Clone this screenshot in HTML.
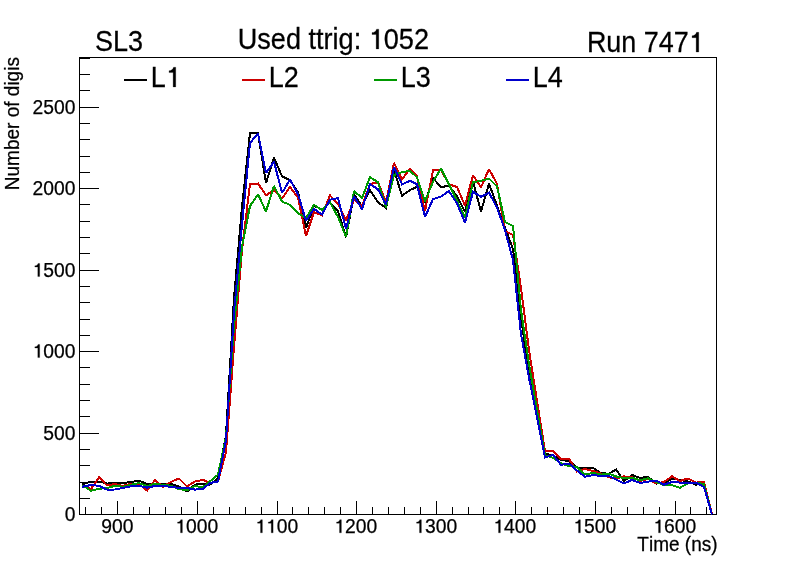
<!DOCTYPE html><html><head><meta charset="utf-8"><style>html,body{margin:0;padding:0;background:#fff;}svg{display:block;will-change:transform;}text{font-family:"Liberation Sans", sans-serif;fill:#000;stroke:#000;stroke-width:0.25px;}</style></head><body>
<svg width="796" height="572" viewBox="0 0 796 572">
<path d="M80 514.5h19M80 498.5h10M80 482.5h10M80 465.5h10M80 449.5h10M80 433.5h19M80 416.5h10M80 400.5h10M80 384.5h10M80 367.5h10M80 351.5h19M80 335.5h10M80 319.5h10M80 302.5h10M80 286.5h10M80 270.5h19M80 253.5h10M80 237.5h10M80 221.5h10M80 204.5h10M80 188.5h19M80 172.5h10M80 156.5h10M80 139.5h10M80 123.5h10M80 107.5h19M80 90.5h10M80 74.5h10M80 58.5h10M85.5 514v-7M101.5 514v-7M117.5 514v-13M133.5 514v-7M149.5 514v-7M165.5 514v-7M181.5 514v-7M197.5 514v-13M213.5 514v-7M229.5 514v-7M245.5 514v-7M261.5 514v-7M277.5 514v-13M292.5 514v-7M308.5 514v-7M324.5 514v-7M340.5 514v-7M356.5 514v-13M372.5 514v-7M388.5 514v-7M404.5 514v-7M420.5 514v-7M436.5 514v-13M452.5 514v-7M468.5 514v-7M483.5 514v-7M499.5 514v-7M515.5 514v-13M531.5 514v-7M547.5 514v-7M563.5 514v-7M579.5 514v-7M595.5 514v-13M611.5 514v-7M627.5 514v-7M643.5 514v-7M659.5 514v-7M675.5 514v-13M690.5 514v-7M706.5 514v-7" stroke="#000" stroke-width="1" fill="none" shape-rendering="crispEdges"/>
<rect x="79.5" y="57.5" width="637" height="457" fill="none" stroke="#000" stroke-width="1" shape-rendering="crispEdges"/>
<polyline points="82.0,484.0 83.0,484.0 91.0,481.5 99.0,481.5 107.0,483.6 115.0,483.0 123.0,483.0 131.0,482.0 139.0,480.7 147.0,484.0 155.0,483.5 163.0,483.8 171.0,483.8 179.0,486.5 187.0,491.5 195.0,484.6 203.0,483.5 210.0,484.6 218.0,478.3 226.0,435.0 234.0,298.0 242.0,207.0 250.0,133.0 258.0,133.0 266.0,183.0 274.0,157.5 282.0,176.4 290.0,180.0 298.0,192.2 306.0,227.8 314.0,205.8 322.0,209.4 330.0,202.4 338.0,211.0 346.0,237.3 354.0,194.5 362.0,206.0 370.0,190.2 378.0,202.4 386.0,208.0 394.0,170.0 402.0,195.7 410.0,190.0 417.0,186.9 425.0,203.0 433.0,178.2 441.0,186.9 449.0,186.0 457.0,196.0 465.0,212.0 473.0,181.5 481.0,211.5 489.0,183.5 497.0,205.7 505.0,228.0 513.0,249.0 521.0,317.0 529.0,374.0 537.0,414.0 545.0,453.6 553.0,455.3 561.0,460.1 569.0,461.0 577.0,467.6 585.0,468.0 593.0,468.0 601.0,473.0 609.0,473.8 616.0,469.5 624.0,481.0 632.0,475.0 640.0,478.0 648.0,476.7 656.0,483.6 664.0,482.6 672.0,478.9 680.0,479.9 688.0,481.5 696.0,484.7 704.0,483.0 712.0,514.5" fill="none" stroke="#000000" stroke-width="2" stroke-linejoin="miter" stroke-miterlimit="2" shape-rendering="crispEdges"/>
<polyline points="82.0,486.0 83.0,486.0 91.0,489.0 99.0,477.2 107.0,485.5 115.0,484.0 123.0,486.0 131.0,483.5 139.0,484.2 147.0,490.6 155.0,480.0 163.0,486.8 171.0,481.8 179.0,478.5 187.0,486.5 195.0,481.5 203.0,479.9 210.0,483.0 218.0,481.5 226.0,452.0 234.0,347.0 242.0,250.0 250.0,184.0 258.0,183.5 266.0,195.3 274.0,190.1 282.0,198.5 290.0,187.0 298.0,197.4 306.0,236.0 314.0,212.1 322.0,215.4 330.0,195.4 338.0,204.1 346.0,220.5 354.0,199.8 362.0,206.0 370.0,184.1 378.0,182.3 386.0,202.0 394.0,162.8 402.0,179.5 410.0,168.6 417.0,176.4 425.0,211.1 433.0,170.3 441.0,170.3 449.0,184.3 457.0,187.0 465.0,205.5 473.0,175.1 481.0,187.3 489.0,169.0 497.0,183.8 505.0,231.0 513.0,235.0 521.0,288.0 529.0,350.0 537.0,401.0 545.0,450.9 553.0,450.9 561.0,458.8 569.0,458.8 577.0,471.5 585.0,468.9 593.0,471.1 601.0,473.5 609.0,477.3 616.0,478.6 624.0,476.4 632.0,477.3 640.0,481.0 648.0,479.1 656.0,483.3 664.0,482.0 672.0,476.3 680.0,481.0 688.0,478.4 696.0,482.6 704.0,482.0 712.0,514.5" fill="none" stroke="#cc0000" stroke-width="2" stroke-linejoin="miter" stroke-miterlimit="2" shape-rendering="crispEdges"/>
<polyline points="82.0,485.5 83.0,485.5 91.0,490.7 99.0,488.8 107.0,488.0 115.0,485.8 123.0,486.8 131.0,484.8 139.0,483.1 147.0,486.0 155.0,483.8 163.0,485.0 171.0,485.7 179.0,489.1 187.0,490.2 195.0,486.0 203.0,487.2 210.0,481.4 218.0,474.6 226.0,437.0 234.0,326.0 242.0,247.0 250.0,206.0 258.0,194.3 266.0,211.5 274.0,185.9 282.0,201.6 290.0,204.8 298.0,213.2 306.0,218.0 314.0,204.8 322.0,210.0 330.0,202.4 338.0,217.0 346.0,237.0 354.0,191.0 362.0,198.0 370.0,177.1 378.0,182.3 386.0,207.3 394.0,175.0 402.0,172.1 410.0,170.9 417.0,177.3 425.0,201.4 433.0,181.7 441.0,168.6 449.0,184.3 457.0,200.6 465.0,217.3 473.0,182.1 481.0,180.9 489.0,178.6 497.0,186.4 505.0,222.0 513.0,226.0 521.0,310.0 529.0,364.0 537.0,410.0 545.0,455.3 553.0,457.9 561.0,463.2 569.0,466.2 577.0,466.7 585.0,474.6 593.0,472.8 601.0,474.6 609.0,473.8 616.0,476.4 624.0,478.2 632.0,477.7 640.0,480.4 648.0,478.2 656.0,481.9 664.0,485.2 672.0,485.2 680.0,487.8 688.0,483.1 696.0,482.6 704.0,484.1 712.0,514.5" fill="none" stroke="#009900" stroke-width="2" stroke-linejoin="miter" stroke-miterlimit="2" shape-rendering="crispEdges"/>
<polyline points="82.0,486.6 83.0,486.6 91.0,485.0 99.0,485.8 107.0,489.6 115.0,489.5 123.0,488.0 131.0,486.2 139.0,485.9 147.0,487.6 155.0,486.0 163.0,486.0 171.0,486.8 179.0,488.0 187.0,488.0 195.0,489.6 203.0,488.8 210.0,483.0 218.0,481.4 226.0,440.0 234.0,312.0 242.0,225.0 250.0,143.0 258.0,133.4 266.0,173.0 274.0,161.7 282.0,193.0 290.0,179.6 298.0,194.3 306.0,220.7 314.0,209.0 322.0,214.4 330.0,199.8 338.0,198.0 346.0,229.0 354.0,196.3 362.0,209.2 370.0,184.1 378.0,189.3 386.0,204.5 394.0,167.0 402.0,184.3 410.0,180.8 417.0,184.3 425.0,216.9 433.0,199.1 441.0,196.5 449.0,191.0 457.0,203.3 465.0,222.7 473.0,191.7 481.0,196.9 489.0,192.6 497.0,207.6 505.0,230.0 513.0,260.0 521.0,334.0 529.0,378.0 537.0,417.0 545.0,457.5 553.0,454.9 561.0,464.9 569.0,463.6 577.0,470.6 585.0,476.7 593.0,475.0 601.0,476.0 609.0,476.0 616.0,479.5 624.0,483.5 632.0,479.9 640.0,483.0 648.0,481.7 656.0,480.5 664.0,484.7 672.0,482.0 680.0,482.6 688.0,482.6 696.0,482.6 704.0,487.0 712.0,514.5" fill="none" stroke="#0000cc" stroke-width="2" stroke-linejoin="miter" stroke-miterlimit="2" shape-rendering="crispEdges"/>
<g transform="translate(0 520.60) scale(1 1.0000)"><text x="64.72" y="0" font-size="19.30">0</text></g>
<g transform="translate(0 439.60) scale(1 1.0000)"><text x="43.25 53.99 64.72" y="0" font-size="19.30">500</text></g>
<g transform="translate(0 357.60) scale(1 1.0000)"><text x="43.25 53.99 64.72" y="0" font-size="19.30">000</text><path d="M39.66 0.00L37.81 0.00L37.81 -9.57L34.87 -9.57L34.87 -10.84C36.48 -10.93 37.61 -11.59 38.08 -13.15L39.66 -13.15Z" stroke="#000" stroke-width="0.25"/></g>
<g transform="translate(0 276.60) scale(1 1.0000)"><text x="43.25 53.99 64.72" y="0" font-size="19.30">500</text><path d="M39.66 0.00L37.81 0.00L37.81 -9.57L34.87 -9.57L34.87 -10.84C36.48 -10.93 37.61 -11.59 38.08 -13.15L39.66 -13.15Z" stroke="#000" stroke-width="0.25"/></g>
<g transform="translate(0 194.60) scale(1 1.0000)"><text x="32.52 43.25 53.99 64.72" y="0" font-size="19.30">2000</text></g>
<g transform="translate(0 113.60) scale(1 1.0000)"><text x="32.52 43.25 53.99 64.72" y="0" font-size="19.30">2500</text></g>
<g transform="translate(0 532.80) scale(1 1.0000)"><text x="101.32 112.06 122.79" y="0" font-size="19.30">900</text></g>
<g transform="translate(0 532.80) scale(1 1.0000)"><text x="185.97 196.70 207.43" y="0" font-size="19.30">000</text><path d="M182.37 0.00L180.52 0.00L180.52 -9.57L177.59 -9.57L177.59 -10.84C179.19 -10.93 180.32 -11.59 180.79 -13.15L182.37 -13.15Z" stroke="#000" stroke-width="0.25"/></g>
<g transform="translate(0 532.80) scale(1 1.0000)"><text x="276.70 287.43" y="0" font-size="19.30">00</text><path d="M262.37 0.00L260.52 0.00L260.52 -9.57L257.59 -9.57L257.59 -10.84C259.19 -10.93 260.32 -11.59 260.79 -13.15L262.37 -13.15Z" stroke="#000" stroke-width="0.25"/><path d="M273.11 0.00L271.25 0.00L271.25 -9.57L268.32 -9.57L268.32 -10.84C269.92 -10.93 271.05 -11.59 271.53 -13.15L273.11 -13.15Z" stroke="#000" stroke-width="0.25"/></g>
<g transform="translate(0 532.80) scale(1 1.0000)"><text x="344.97 355.70 366.43" y="0" font-size="19.30">200</text><path d="M341.37 0.00L339.52 0.00L339.52 -9.57L336.59 -9.57L336.59 -10.84C338.19 -10.93 339.32 -11.59 339.79 -13.15L341.37 -13.15Z" stroke="#000" stroke-width="0.25"/></g>
<g transform="translate(0 532.80) scale(1 1.0000)"><text x="424.97 435.70 446.43" y="0" font-size="19.30">300</text><path d="M421.37 0.00L419.52 0.00L419.52 -9.57L416.59 -9.57L416.59 -10.84C418.19 -10.93 419.32 -11.59 419.79 -13.15L421.37 -13.15Z" stroke="#000" stroke-width="0.25"/></g>
<g transform="translate(0 532.80) scale(1 1.0000)"><text x="503.97 514.70 525.43" y="0" font-size="19.30">400</text><path d="M500.37 0.00L498.52 0.00L498.52 -9.57L495.59 -9.57L495.59 -10.84C497.19 -10.93 498.32 -11.59 498.79 -13.15L500.37 -13.15Z" stroke="#000" stroke-width="0.25"/></g>
<g transform="translate(0 532.80) scale(1 1.0000)"><text x="583.97 594.70 605.43" y="0" font-size="19.30">500</text><path d="M580.37 0.00L578.52 0.00L578.52 -9.57L575.59 -9.57L575.59 -10.84C577.19 -10.93 578.32 -11.59 578.79 -13.15L580.37 -13.15Z" stroke="#000" stroke-width="0.25"/></g>
<g transform="translate(0 532.80) scale(1 1.0000)"><text x="663.97 674.70 685.43" y="0" font-size="19.30">600</text><path d="M660.37 0.00L658.52 0.00L658.52 -9.57L655.59 -9.57L655.59 -10.84C657.19 -10.93 658.32 -11.59 658.79 -13.15L660.37 -13.15Z" stroke="#000" stroke-width="0.25"/></g>
<g transform="translate(0 550.75) scale(1 1.0300)"><text x="637.37 648.98 653.20 669.03 684.87 691.20 701.77 711.27" y="0" font-size="19.00">Time(ns)</text></g>
<g transform="translate(18.9 188.6) rotate(-90)"><g transform="translate(0 0.00) scale(1 1.0300)"><text x="-1.56 12.16 22.73 38.56 49.12 59.69 71.30 81.86 92.42 102.99 107.21 117.78 122.00" y="0" font-size="19.00">Numberofdigis</text></g></g>
<g transform="translate(0 51.00) scale(1 1.0700)"><text x="94.97 112.98 128.00" y="0" font-size="27.00">SL3</text></g>
<g transform="translate(0 48.90) scale(1 1.0700)"><text x="237.71 257.28 270.83 285.90 308.50 316.03 323.56 332.59 338.61 353.68 383.81 398.88 413.95" y="0" font-size="27.10">Usedttrig:052</text><path d="M378.77 0.00L376.16 0.00L376.16 -13.44L372.04 -13.44L372.04 -15.22C374.29 -15.35 375.88 -16.28 376.54 -18.46L378.77 -18.46Z" stroke="#000" stroke-width="0.25"/></g>
<g transform="translate(0 52.00) scale(1 1.0700)"><text x="586.89 606.35 621.34 643.82 658.80 673.79" y="0" font-size="26.95">Run747</text><path d="M698.76 0.00L696.16 0.00L696.16 -13.37L692.07 -13.37L692.07 -15.13C694.31 -15.26 695.89 -16.19 696.54 -18.36L698.76 -18.36Z" stroke="#000" stroke-width="0.25"/></g>
<path d="M124 80h23" stroke="#000000" stroke-width="2" shape-rendering="crispEdges"/>
<g transform="translate(0 86.90) scale(1 1.0700)"><text x="150.79" y="0" font-size="26.93">L</text><path d="M175.74 0.00L173.14 0.00L173.14 -13.36L169.06 -13.36L169.06 -15.12C171.29 -15.25 172.87 -16.17 173.53 -18.34L175.74 -18.34Z" stroke="#000" stroke-width="0.25"/></g>
<path d="M242 80h23" stroke="#cc0000" stroke-width="2" shape-rendering="crispEdges"/>
<g transform="translate(0 86.90) scale(1 1.0700)"><text x="268.79 283.80" y="0" font-size="27.00">L2</text></g>
<path d="M374 80h23" stroke="#009900" stroke-width="2" shape-rendering="crispEdges"/>
<g transform="translate(0 86.90) scale(1 1.0700)"><text x="400.79 415.80" y="0" font-size="27.00">L3</text></g>
<path d="M506 80h23" stroke="#0000cc" stroke-width="2" shape-rendering="crispEdges"/>
<g transform="translate(0 86.90) scale(1 1.0700)"><text x="532.79 547.80" y="0" font-size="27.00">L4</text></g>
</svg></body></html>
